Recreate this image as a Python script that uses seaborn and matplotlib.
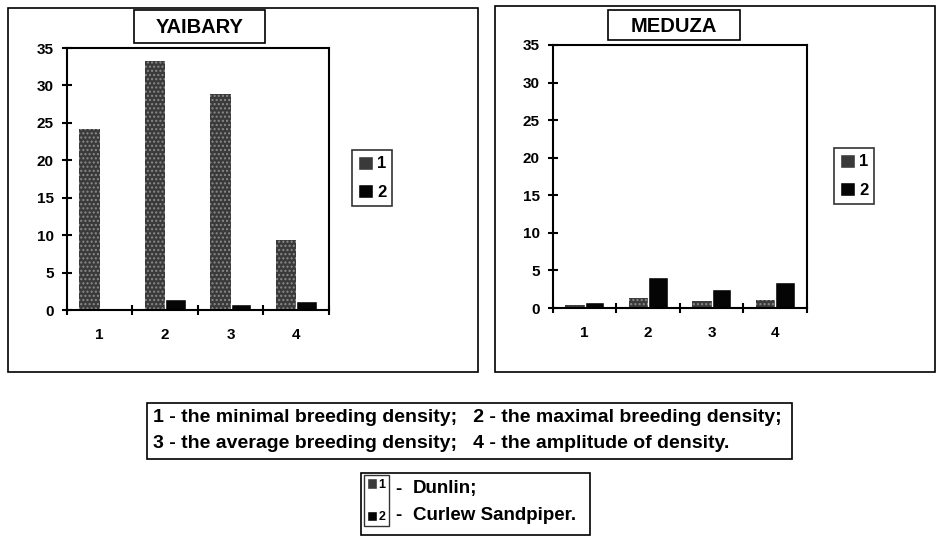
import matplotlib
matplotlib.use("Agg")
import matplotlib.pyplot as plt
from matplotlib.patches import Rectangle
import pandas as pd
import seaborn as sns

sns.set_theme(style="white")
plt.rcParams['font.family'] = ['Liberation Sans', 'DejaVu Sans']
plt.rcParams['text.color'] = 'black'
plt.rcParams['xtick.color'] = 'black'
plt.rcParams['ytick.color'] = 'black'

# data
categories = ['1', '2', '3', '4']
series_names = ['1', '2']
yaibary_dunlin = [24.2, 33.3, 28.8, 9.3]
yaibary_curlew = [0.2, 1.5, 0.8, 1.2]
meduza_dunlin = [0.4, 1.3, 0.9, 1.1]
meduza_curlew = [0.8, 4.1, 2.5, 3.5]
panel_titles = ['YAIBARY', 'MEDUZA']
yticks = [0, 5, 10, 15, 20, 25, 30, 35]
note_lines = ['1 - the minimal breeding density;   2 - the maximal breeding density;',
              '3 - the average breeding density;   4 - the amplitude of density.']
species = ['Dunlin;', 'Curlew Sandpiper.']

c_dunlin = '#3a3a3a'
c_curlew = '#050505'

W, H = 937, 545


def fx(px):
    return px / W


def fy(py):
    return 1 - py / H


def box(x0, y0, x1, y1, lw=1.2):
    fig.patches.append(Rectangle((fx(x0), fy(y1)), fx(x1 - x0), (y1 - y0) / H,
                                 transform=fig.transFigure, facecolor='none',
                                 edgecolor='black', linewidth=lw, zorder=5))


def make_df(s1, s2):
    rows = []
    for cat, v in zip(categories, s1):
        rows.append({'cat': cat, 'series': series_names[0], 'val': v})
    for cat, v in zip(categories, s2):
        rows.append({'cat': cat, 'series': series_names[1], 'val': v})
    return pd.DataFrame(rows)


fig = plt.figure(figsize=(W / 100, H / 100), dpi=100)
fig.patch.set_facecolor('white')

# outer panel frames
box(8, 8, 478, 372)
box(495, 6, 935, 372)

panels = [
    dict(pos=(67, 48, 329, 310), s1=yaibary_dunlin, s2=yaibary_curlew,
         tbox=(134, 10, 265, 43), leg=(352, 150)),
    dict(pos=(553, 45, 807, 308), s1=meduza_dunlin, s2=meduza_curlew,
         tbox=(608, 10, 740, 40), leg=(834, 148)),
]

handles = None
for p, title in zip(panels, panel_titles):
    x0, y0, x1, y1 = p['pos']
    ax = fig.add_axes([fx(x0), fy(y1), fx(x1 - x0), (y1 - y0) / H])
    df = make_df(p['s1'], p['s2'])
    sns.barplot(data=df, x='cat', y='val', hue='series',
                palette=[c_dunlin, c_curlew], width=0.62, saturation=1,
                ax=ax, legend=True)
    for bar in ax.containers[0]:
        bar.set_hatch('....')
        bar.set_edgecolor('#8a8a8a')
        bar.set_linewidth(0)
    ax.set_xlim(-0.5, 3.5)
    ax.set_ylim(0, 35)
    ax.set_yticks(yticks)
    ax.set_xlabel('')
    ax.set_ylabel('')
    ax.set_xticks([-0.5, 0.5, 1.5, 2.5, 3.5], minor=True)
    ax.tick_params(axis='x', which='major', length=0, pad=13)
    ax.tick_params(axis='x', which='minor', length=7, width=1.5,
                   direction='inout', bottom=True)
    ax.tick_params(axis='y', length=7, width=1.5, direction='inout',
                   left=True, pad=6)
    for lab in ax.get_xticklabels() + ax.get_yticklabels():
        lab.set_fontweight('bold')
        lab.set_fontsize(11)
        lab.set_color('black')
    for sp in ax.spines.values():
        sp.set_visible(True)
        sp.set_color('black')
        sp.set_linewidth(1.5)
    handles, labels = ax.get_legend_handles_labels()
    ax.get_legend().remove()
    lx, ly = p['leg']
    leg = fig.legend(handles, labels, loc='upper left',
                     bbox_to_anchor=(fx(lx), fy(ly)), frameon=True,
                     fancybox=False, edgecolor='black', handlelength=0.9,
                     handleheight=0.9, handletextpad=0.25, borderpad=0.35,
                     labelspacing=0.75, borderaxespad=0,
                     prop={'weight': 'bold', 'size': 12})
    leg.get_frame().set_linewidth(1.2)
    tx0, ty0, tx1, ty1 = p['tbox']
    box(tx0, ty0, tx1, ty1)
    fig.text(fx((tx0 + tx1) / 2), fy((ty0 + ty1) / 2 + 1), title,
             ha='center', va='center', fontsize=14.5, fontweight='bold')

# description box
box(147, 403, 792, 459)
for i, line in enumerate(note_lines):
    fig.text(fx(153), fy(417 + i * 26), line, ha='left', va='center',
             fontsize=14, fontweight='bold')

# species legend box
box(361, 473, 590, 535)
sleg = fig.legend(handles, series_names, loc='upper left',
                  bbox_to_anchor=(fx(364), fy(475)), frameon=True,
                  fancybox=False, edgecolor='black', handlelength=0.8,
                  handleheight=0.9, handletextpad=0.1, borderpad=0.25,
                  labelspacing=1.6, borderaxespad=0,
                  prop={'weight': 'bold', 'size': 9})
sleg.get_frame().set_linewidth(1.0)
for i, name in enumerate(species):
    fig.text(fx(395), fy(489 + i * 27), '-', ha='left', va='center',
             fontsize=13.5, fontweight='bold')
    fig.text(fx(413), fy(489 + i * 27), name, ha='left', va='center',
             fontsize=13.5, fontweight='bold')

fig.savefig('out.png', dpi=100)
